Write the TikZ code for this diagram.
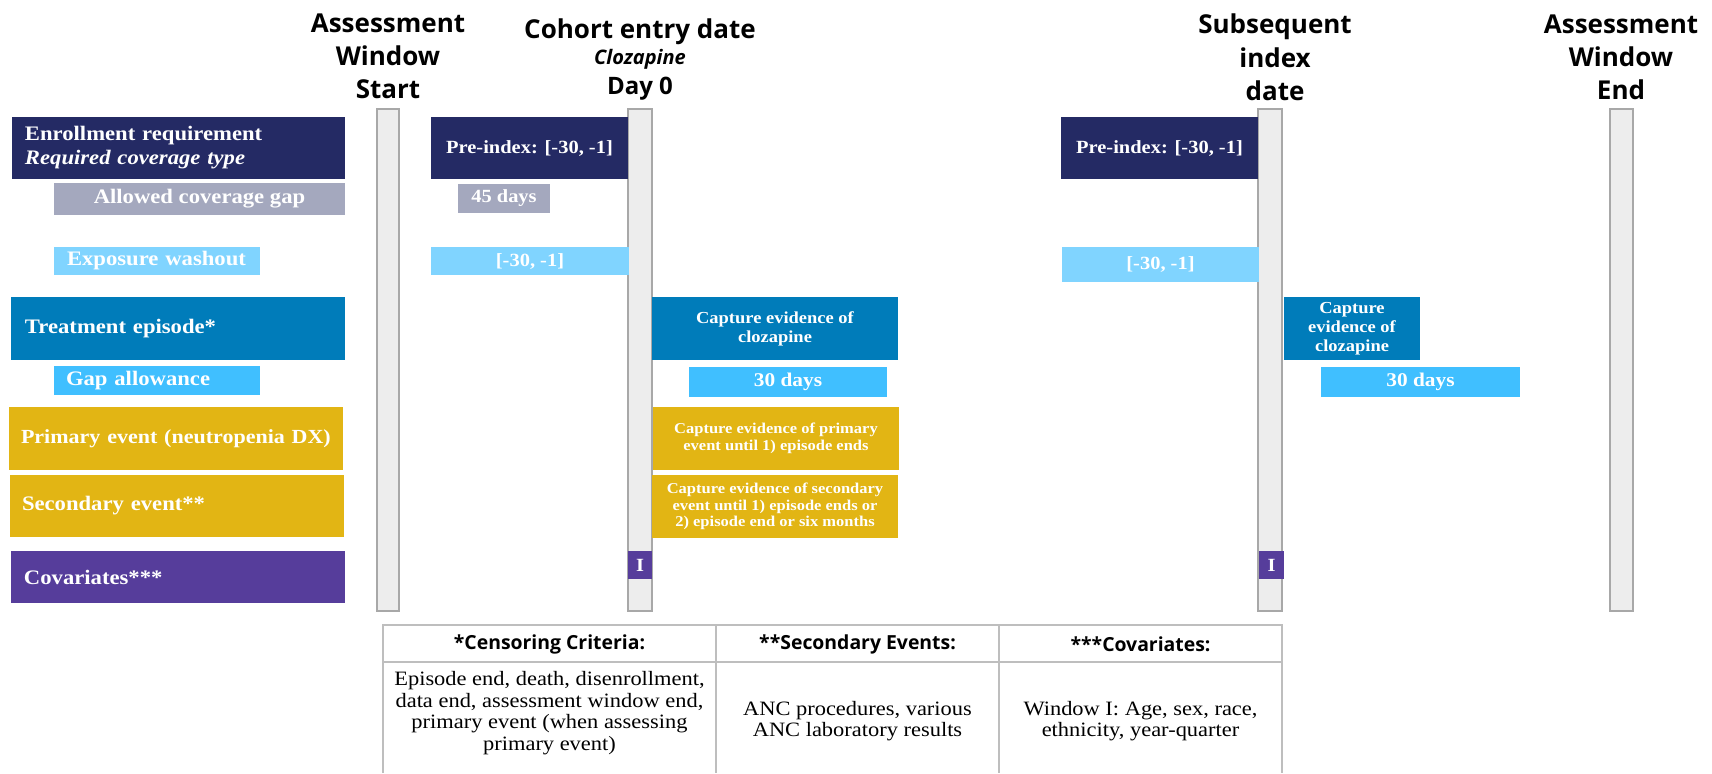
\documentclass[tikz,border=0pt]{standalone}
\usepackage{fontspec}
\setmainfont[FakeStretch=1.1]{Liberation Serif}
\newfontfamily\hdr{Open Sans}
\definecolor{navy}{RGB}{36,42,100}
\definecolor{gapgray}{RGB}{164,168,190}
\definecolor{washblue}{RGB}{128,212,255}
\definecolor{trtblue}{RGB}{0,124,186}
\definecolor{gapblue}{RGB}{64,191,255}
\definecolor{gold}{RGB}{226,181,20}
\definecolor{covpurple}{RGB}{86,61,155}
\definecolor{barfill}{RGB}{237,237,237}
\definecolor{barline}{RGB}{168,168,168}
\definecolor{tblline}{RGB}{190,190,190}
\newcommand\cbox[7]{%
  \node[box,#2,minimum width={(#5-#3)*0.5pt},minimum height={(#6-#4)*0.5pt},align=center]
    (#1) at ({(#3+#5)/2},{(#4+#6)/2}) {#7};}
\newcommand\lbox[8]{%
  \pgfmathsetlengthmacro\lbtw{(#5-#3)*0.5pt-2*#7pt}%
  \node[box,#2,inner xsep=#7pt,text width=\lbtw,minimum height={(#6-#4)*0.5pt},align=left]
    (#1) at ({(#3+#5)/2},{(#4+#6)/2}) {#8};}
\begin{document}
\begin{tikzpicture}[x=0.5pt,y=-0.5pt,
  box/.style={inner sep=0pt,outer sep=0pt,text=white,font=\bfseries},
  lbl/.style={font=\bfseries\fontsize{10.3}{12}\selectfont},
  mid/.style={font=\bfseries\fontsize{9.3}{11}\selectfont},
  capa/.style={font=\bfseries\fontsize{8.4}{9.5}\selectfont},
  capb/.style={font=\bfseries\fontsize{7.5}{8.3}\selectfont},
  days/.style={font=\bfseries\fontsize{9.7}{11}\selectfont},
  bar/.style={draw=barline,fill=barfill,line width=1pt,inner sep=0pt,outer sep=0pt},
  hdrtxt/.style={anchor=base,inner sep=0pt,font=\hdr\bfseries\fontsize{13}{15}\selectfont},
  tbl/.style={draw=tblline,line width=1pt},
  thd/.style={inner sep=0pt,font=\hdr\bfseries\fontsize{9.7}{11}\selectfont},
  tbd/.style={inner sep=0pt,align=center,font=\fontsize{10.2}{10.85}\selectfont}]
\fill[white] (0,0) rectangle (1712,773);
\useasboundingbox (0,0) rectangle (1712,773);

% headers
\node[hdrtxt] (s1) at (388,32) {Assessment};
\node[hdrtxt] (s2) at (388,65) {Window};
\node[hdrtxt] (s3) at (388,98) {Start};
\node[hdrtxt] (c1) at (640,38) {Cohort entry date};
\node[hdrtxt,font=\hdr\bfseries\itshape\fontsize{10}{12}\selectfont] (c2) at (640,64) {Clozapine};
\node[hdrtxt,font=\hdr\bfseries\fontsize{12}{14}\selectfont] (c3) at (640,94) {Day 0};
\node[hdrtxt] (q1) at (1275,33) {Subsequent};
\node[hdrtxt] (q2) at (1275,67) {index};
\node[hdrtxt] (q3) at (1275,100) {date};
\node[hdrtxt] (e1) at (1621,33) {Assessment};
\node[hdrtxt] (e2) at (1621,66) {Window};
\node[hdrtxt] (e3) at (1621,99) {End};

% vertical bars
\cbox{bar1}{bar}{377}{109}{399}{611}{}
\cbox{bar2}{bar}{628}{109}{652}{611}{}
\cbox{bar3}{bar}{1258}{109}{1282}{611}{}
\cbox{bar4}{bar}{1610}{109}{1633}{611}{}

% left labels
\lbox{enr}{fill=navy,lbl}{12}{117}{345}{179}{6.5}{Enrollment requirement\\\textit{Required coverage type}}
\cbox{acg}{fill=gapgray,lbl}{54}{183}{345}{215}{Allowed coverage gap}
\lbox{exw}{fill=washblue,lbl}{54}{247}{260}{275}{6.5}{Exposure washout}
\lbox{trt}{fill=trtblue,lbl}{11}{297}{345}{360}{7}{Treatment episode*}
\lbox{gap}{fill=gapblue,lbl}{54}{366}{260}{395}{6}{Gap allowance}
\lbox{pri}{fill=gold,lbl}{9}{407}{343}{470}{6}{\mbox{\fontsize{10}{12}\selectfont Primary event (neutropenia DX)}}
\lbox{sec}{fill=gold,lbl}{10}{475}{344}{537}{6}{Secondary event**}
\lbox{cov}{fill=covpurple,lbl}{11}{551}{345}{603}{6.5}{Covariates***}

% cohort entry window
\cbox{pre1}{fill=navy,mid}{431}{117}{628}{179}{Pre-index: [-30, -1]}
\cbox{d45}{fill=gapgray,mid}{458}{184}{550}{213}{45 days}
\cbox{wo1}{fill=washblue,mid}{431}{247}{629}{275}{[-30, -1]}
\cbox{cap1}{fill=trtblue,capa}{652}{297}{898}{360}{Capture evidence of\\clozapine}
\cbox{d30a}{fill=gapblue,days}{689}{367}{887}{397}{30 days}
\cbox{cpri}{fill=gold,capb}{653}{407}{899}{470}{Capture evidence of primary\\event until 1) episode ends}
\cbox{csec}{fill=gold,capb}{652}{475}{898}{538}{Capture evidence of secondary\\event until 1) episode ends or\\2) episode end or six months}
\cbox{i1}{fill=covpurple,mid}{628}{551}{652}{579}{I}

% subsequent index
\cbox{pre2}{fill=navy,mid}{1061}{117}{1258}{179}{Pre-index: [-30, -1]}
\cbox{wo2}{fill=washblue,mid}{1062}{247}{1259}{282}{[-30, -1]}
\cbox{cap2}{fill=trtblue,capa}{1284}{297}{1420}{360}{Capture\\evidence of\\clozapine}
\cbox{d30b}{fill=gapblue,days}{1321}{367}{1520}{397}{30 days}
\cbox{i2}{fill=covpurple,mid}{1259}{551}{1284}{579}{I}

% table
\draw[tbl] (383,773) -- (383,625) -- (1282,625) -- (1282,773);
\draw[tbl] (383,662) -- (1282,662);
\draw[tbl] (716,625) -- (716,773);
\draw[tbl] (999,625) -- (999,773);
\node[thd] (th1) at (549.5,644) {*Censoring Criteria:};
\node[thd] (th2) at (857.5,644) {**Secondary Events:};
\node[thd] (th3) at (1140.5,644) {***Covariates:};
\node[tbd] (tb1) at (549.5,713) {Episode end, death, disenrollment,\\data end, assessment window end,\\primary event (when assessing\\primary event)};
\node[tbd] (tb2) at (857.5,721) {ANC procedures, various\\ANC laboratory results};
\node[tbd] (tb3) at (1140.5,721) {Window I: Age, sex, race,\\ethnicity, year-quarter};
\end{tikzpicture}
\end{document}
